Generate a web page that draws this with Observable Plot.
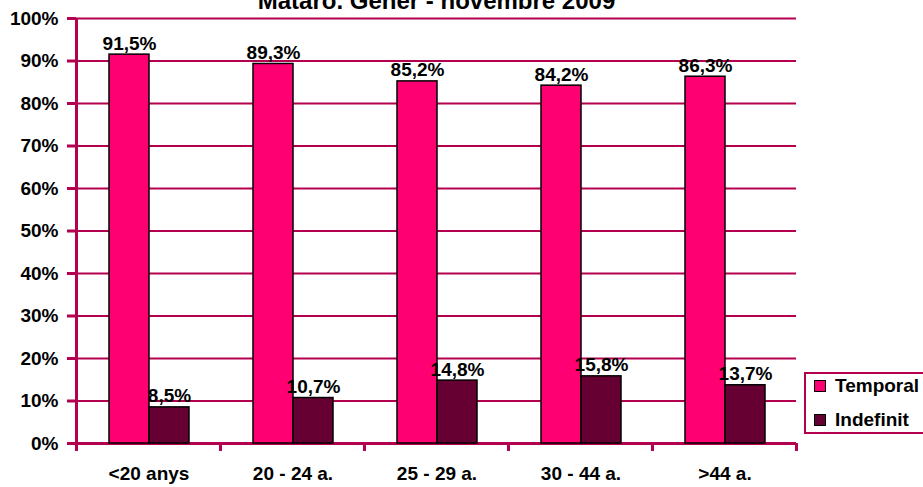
<!DOCTYPE html>
<html>
<head>
<meta charset="utf-8">
<script src="https://cdn.jsdelivr.net/npm/d3@7"></script>
<script src="https://cdn.jsdelivr.net/npm/@observablehq/plot@0.6"></script>
<style>
  html, body { margin: 0; padding: 0; background: white; }
  #wrap { position: relative; width: 923px; height: 487px; overflow: hidden; font-family: "Liberation Sans", Arial, sans-serif; font-weight: bold; }
  #wrap svg { position: absolute; left: 0; top: 0; }
  #legend { position: absolute; left: 804px; top: 372px; width: 140px; height: 62px; border: 2px solid #b3004f; background: white; box-sizing: border-box; }
  .item { position: absolute; left: 8px; display: flex; align-items: center; font-size: 19px; color: black; }
  .sw { width: 10px; height: 10px; border: 1.5px solid black; margin-right: 9px; }
</style>
</head>
<body>
<div id="wrap"></div>
<script>
const title = "Mataró. Gener - novembre 2009";
const categories = ["<20 anys", "20 - 24 a.", "25 - 29 a.", "30 - 44 a.", ">44 a."];
const series = ["Temporal", "Indefinit"];
const temporal = [91.5, 89.3, 85.2, 84.2, 86.3];
const indefinit = [8.5, 10.7, 14.8, 15.8, 13.7];
const yTicks = [0, 10, 20, 30, 40, 50, 60, 70, 80, 90, 100];
const seriesColors = ["#ff0073", "#660033"];

const CRIM = "#b3004f";
const FONT = "'Liberation Sans', Arial, sans-serif";
const W = 923, H = 487;
const M = {marginLeft: 76, marginRight: 127, marginTop: 18, marginBottom: 44};

const rows = [];
categories.forEach((c, i) => {
  rows.push({cat: c, series: series[0], value: temporal[i]});
  rows.push({cat: c, series: series[1], value: indefinit[i]});
});
const fmt = v => v.toFixed(1).replace(".", ",") + "%";

const bg = Plot.plot({
  width: W, height: H, ...M,
  style: {fontFamily: FONT, fontWeight: "bold", fontSize: "19px", background: "white", color: "black"},
  x: {type: "linear", domain: [0, categories.length]},
  y: {domain: [0, 100]},
  marks: [
    Plot.ruleY(yTicks.slice(1), {stroke: CRIM, strokeWidth: 2}),
    Plot.axisY(yTicks, {tickFormat: d => d + "%", tickSize: 9, tickPadding: 9, stroke: CRIM, strokeWidth: 3, fill: "black", fontSize: 19, label: null}),
    Plot.axisX(d3.range(0, categories.length + 1), {tickSize: 8, tickFormat: () => "", stroke: CRIM, strokeWidth: 3, label: null}),
    Plot.ruleX([0], {stroke: CRIM, strokeWidth: 3}),
    Plot.ruleY([0], {stroke: CRIM, strokeWidth: 3}),
    Plot.text([title], {text: d => d, frameAnchor: "top", lineAnchor: "bottom", dy: -10, fontSize: 24, fontWeight: "bold", fill: "black"})
  ]
});

const fg = Plot.plot({
  width: W, height: H, ...M,
  style: {fontFamily: FONT, fontWeight: "bold", fontSize: "19px", background: "transparent", color: "black"},
  fx: {domain: categories, paddingInner: 0.44, paddingOuter: 0.22, label: null, axis: "bottom", tickSize: 0, tickPadding: 23},
  x: {domain: series, padding: 0, axis: null},
  y: {domain: [0, 100], axis: null},
  color: {domain: series, range: seriesColors},
  marks: [
    Plot.barY(rows, {fx: "cat", x: "series", y: "value", fill: "series", stroke: "black", strokeWidth: 1.5}),
    Plot.text(rows, {fx: "cat", x: "series", y: "value", text: d => fmt(d.value), lineAnchor: "bottom", dy: -5, fontSize: 19, fontWeight: "bold", fill: "black"})
  ]
});

const wrap = document.getElementById("wrap");
wrap.appendChild(bg);
wrap.appendChild(fg);

const legend = document.createElement("div");
legend.id = "legend";
series.forEach((s, i) => {
  const it = document.createElement("div");
  it.className = "item";
  it.style.top = (i === 0 ? 1 : 35) + "px";
  const sw = document.createElement("div");
  sw.className = "sw";
  sw.style.background = seriesColors[i];
  const t = document.createElement("span");
  t.textContent = s;
  it.appendChild(sw);
  it.appendChild(t);
  legend.appendChild(it);
});
wrap.appendChild(legend);
</script>
</body>
</html>
